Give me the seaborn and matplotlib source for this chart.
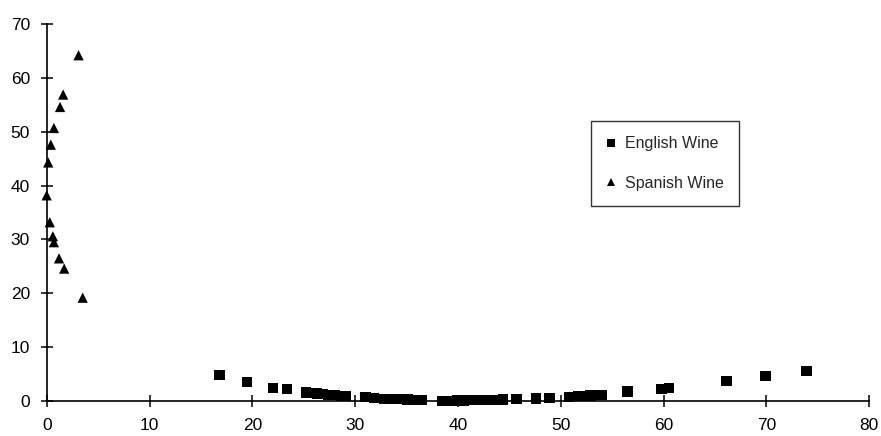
import matplotlib
matplotlib.use("Agg")
import matplotlib.pyplot as plt
import pandas as pd
import seaborn as sns

# English wine observations
english_x = [16.8, 19.5, 22.0, 23.4, 25.2, 25.7, 26.3, 26.9, 27.4, 28.0, 28.6, 29.1,
             31.0, 31.8, 32.8, 33.5, 34.3, 35.1, 35.8, 36.5, 38.5, 39.2, 39.9, 40.6,
             41.4, 42.1, 42.9, 43.6, 44.4, 45.7, 47.6, 48.9, 50.8, 51.7, 52.3, 52.9,
             53.5, 54.0, 56.5, 59.8, 60.5, 66.1, 69.9, 73.9]
english_y = [4.8, 3.5, 2.5, 2.2, 1.6, 1.5, 1.4, 1.3, 1.2, 1.1, 1.0, 0.9,
             0.7, 0.6, 0.45, 0.4, 0.35, 0.3, 0.25, 0.2, 0.05, 0.05, 0.1, 0.1,
             0.15, 0.15, 0.2, 0.25, 0.3, 0.4, 0.5, 0.6, 0.8, 0.9, 1.0, 1.05,
             1.1, 1.2, 1.8, 2.3, 2.4, 3.7, 4.6, 5.6]

# Spanish wine observations
spanish_x = [3.1, 1.6, 1.3, 0.7, 0.4, 0.15, 0.0, 0.3, 0.6, 0.7, 1.2, 1.7, 3.5]
spanish_y = [64.2, 56.9, 54.6, 50.7, 47.6, 44.3, 38.2, 33.2, 30.6, 29.5, 26.5, 24.6, 19.2]

series_names = ["English Wine", "Spanish Wine"]
x_ticks = [0, 10, 20, 30, 40, 50, 60, 70, 80]
y_ticks = [0, 10, 20, 30, 40, 50, 60, 70]

df = pd.DataFrame({
    "x": english_x + spanish_x,
    "y": english_y + spanish_y,
    "wine": [series_names[0]] * len(english_x) + [series_names[1]] * len(spanish_x),
})

sns.set_style("white")
plt.rcParams["font.family"] = ["Liberation Sans", "DejaVu Sans"]

fig = plt.figure(figsize=(8.81, 4.36), dpi=100)
ax = fig.add_axes([0.053, 0.080, 0.9337, 0.865])

sns.scatterplot(
    data=df, x="x", y="y", style="wine",
    markers={series_names[0]: "s", series_names[1]: "^"},
    hue="wine", palette={series_names[0]: "black", series_names[1]: "black"},
    s=55, linewidth=0, ax=ax, clip_on=False, legend=True,
)

ax.set_xlim(0, 80)
ax.set_ylim(0, 70)
ax.set_xticks(x_ticks)
ax.set_yticks(y_ticks)
ax.set_xlabel("")
ax.set_ylabel("")

for side in ("top", "right"):
    ax.spines[side].set_visible(False)
for side in ("left", "bottom"):
    ax.spines[side].set_color("black")
    ax.spines[side].set_linewidth(1.2)

ax.tick_params(axis="both", bottom=True, left=True, direction="inout",
               length=8, width=1.1, color="black", labelsize=12.5,
               labelcolor="black")
ax.tick_params(axis="x", pad=8)
ax.tick_params(axis="y", pad=8)
ax.grid(False)

handles, labels = ax.get_legend_handles_labels()
leg = ax.legend(
    handles, labels, loc="upper left",
    bbox_to_anchor=(591 / 881, 1 - 121 / 436), bbox_transform=fig.transFigure,
    frameon=True, fancybox=False, shadow=False, fontsize=11.5,
    borderpad=0.95, handlelength=0.6, handletextpad=0.55, labelspacing=1.55,
    markerscale=0.75, borderaxespad=0,
)
leg.get_frame().set_edgecolor("black")
leg.get_frame().set_linewidth(1.0)

fig.savefig("out.png", dpi=100, facecolor="white")
